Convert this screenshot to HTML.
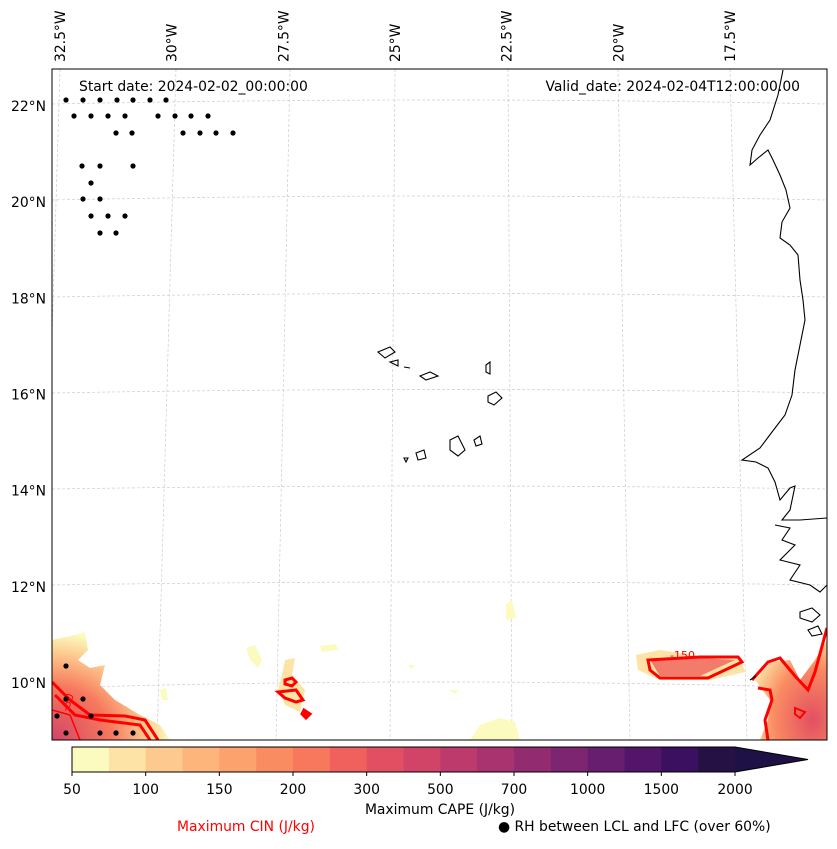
<!DOCTYPE html>
<html><head><meta charset="utf-8"><style>
body{margin:0;background:#fff;width:837px;height:845px;overflow:hidden;font-family:"DejaVu Sans","Liberation Sans",sans-serif}
svg text{font-family:"DejaVu Sans","Liberation Sans",sans-serif;font-size:13.9px}
</style></head><body>
<svg id="chart" width="837" height="845" viewBox="0 0 837 845">
<defs>
<clipPath id="mapclip"><rect x="52" y="69" width="775" height="671"/></clipPath>
<radialGradient id="capeL" cx="0" cy="1" r="1"><stop offset="0" stop-color="#d24467"/><stop offset="0.5" stop-color="#f7785d"/><stop offset="0.8" stop-color="#fdc98e"/><stop offset="1" stop-color="#fcfbbf"/></radialGradient>
<radialGradient id="capeR" cx="0.8" cy="0.8" r="0.9"><stop offset="0" stop-color="#e34f62"/><stop offset="0.6" stop-color="#fa8c62"/><stop offset="1" stop-color="#fde4a6"/></radialGradient>
</defs>
<g id="map" clip-path="url(#mapclip)">
<g id="grid" stroke="#ccc" stroke-width="0.7" stroke-dasharray="3,2" fill="none">
<path d="M60 69 L40 740"/><path d="M176 69 L157 740"/><path d="M290 69 L276 740"/><path d="M395 69 L390 740"/><path d="M508 69 L512 740"/><path d="M618 69 L630 740"/><path d="M730 69 L747 740"/>
<path d="M52 104 Q440 96 827 104"/><path d="M52 200 Q440 192 827 200"/><path d="M52 297 Q440 290 827 297"/><path d="M52 393 Q440 386 827 393"/><path d="M52 489 Q440 483 827 489"/><path d="M52 585 Q440 579 827 585"/><path d="M52 688 Q440 676 827 688"/>
</g>
<g id="cape-fill">
<path d="M52 640 L70 636 L85 632 L88 650 L78 660 L90 668 L105 665 L100 685 L115 700 L140 715 L160 725 L170 740 L52 740Z" fill="url(#capeL)"/>
<path d="M246 648 L255 645 L262 660 L258 668 L250 660Z" fill="#fcfbbf"/>
<path d="M285 660 L295 658 L292 675 L305 690 L300 712 L285 705 L278 690 L282 675Z" fill="#fde4a6"/>
<path d="M320 646 L336 644 L338 650 L322 652Z" fill="#fcfbbf"/>
<path d="M506 604 L512 600 L516 618 L506 620Z" fill="#fcfbbf"/>
<path d="M480 725 L500 718 L515 722 L520 740 L470 740Z" fill="#fcfbbf"/>
<path d="M636 655 L660 650 L700 656 L740 656 L745 672 L710 680 L660 680 L638 670Z" fill="#fde4a6"/>
<path d="M650 660 L700 658 L735 660 L700 676 L660 676Z" fill="#f0605d" opacity="0.8"/>
<path d="M755 680 L770 662 L790 660 L800 680 L815 660 L827 640 L827 740 L760 740 L768 720 L770 700Z" fill="url(#capeR)"/>
<path d="M160 690 L166 688 L168 700 L162 700Z" fill="#fcfbbf"/><path d="M408 665 L414 665 L412 670Z" fill="#fcfbbf"/><path d="M448 690 L458 690 L456 694Z" fill="#fcfbbf"/>
</g>
<g id="cin" fill="none" stroke="#ff0000" stroke-width="3">
<path d="M52 682 L70 700 L90 715 L125 716 L145 720 L158 740"/>
<path d="M55 695 L75 715 L100 720 L140 725 L150 740"/>
<path d="M52 710 L70 715 L80 740" stroke-width="1.5"/>
<path d="M285 680 L292 678 L296 682 L292 686 L285 684Z"/>
<path d="M278 692 L296 690 L303 700 L296 702 L285 698Z"/>
<path d="M304 710 L310 714 L306 718 L302 714Z" fill="#ff0000"/>
<path d="M648 660 L700 657 L738 657 L742 662 L725 670 L708 678 L660 678 L650 670Z"/>
<path d="M752 680 L768 662 L780 658 L795 676 L808 690 L815 672 L827 628"/>
<path d="M758 688 L770 690 L772 700 L765 720 L768 740"/>
<path d="M795 708 L805 712 L800 718 L795 714Z" stroke-width="2"/>
</g>
<g fill="#ff0000">
<text x="670" y="659" style="font-size:11px">-150</text>
<text x="68" y="712" style="font-size:11px" transform="rotate(-70 68 712)">-50</text>
</g>
<g id="coast" fill="none" stroke="#000" stroke-width="1.1">
<path d="M783 70 L778 95 L770 120 L760 135 L752 150 L750 165 L758 158 L768 150 L773 160 L780 175 L786 190 L790 208 L782 222 L780 238 L790 245 L798 255 L800 280 L803 300 L805 320 L800 345 L795 370 L792 395 L785 415 L772 432 L760 448 L742 460 L756 462 L768 468 L775 482 L780 500 L790 488 L795 486 L790 510 L782 520 L800 520 L827 518"/>
<path d="M775 525 L790 528 L782 540 L795 545 L780 560 L800 565 L790 580 L810 585 L820 592 L827 585"/>
<path d="M800 612 L812 608 L820 615 L812 622 L800 618Z"/><path d="M808 630 L818 626 L822 634 L812 636Z"/><path d="M750 680 L756 676"/>
<path d="M378 352 L390 347 L395 352 L385 358Z"/><path d="M390 362 L398 360 L398 366Z"/><path d="M404 367 L410 368"/>
<path d="M420 376 L430 372 L438 376 L426 380Z"/><path d="M486 365 L490 362 L490 374 L486 372Z"/>
<path d="M488 396 L496 392 L502 398 L494 405 L488 402Z"/><path d="M450 440 L458 436 L465 450 L458 456 L450 450Z"/>
<path d="M474 440 L480 436 L482 444 L476 446Z"/><path d="M416 453 L424 450 L426 458 L418 460Z"/><path d="M404 458 L408 458 L406 462Z"/>
</g>
<g id="rh-dots" fill="#000"></g>
</g>
<rect x="52" y="69" width="775" height="671" fill="none" stroke="#000" stroke-width="1"/>
<g id="lon-labels"></g>
<g id="lat-labels"></g>
<text x="79" y="91">Start date: 2024-02-02_00:00:00</text>
<text x="800" y="91" text-anchor="end">Valid_date: 2024-02-04T12:00:00.00</text>
<g id="colorbar"></g>
<text x="440" y="814" text-anchor="middle">Maximum CAPE (J/kg)</text>
<text x="177" y="831" fill="#ff0000">Maximum CIN (J/kg)</text>
<text x="498" y="831">● RH between LCL and LFC (over 60%)</text>
</svg>
<script>
const lonLabels=["32.5°W","30°W","27.5°W","25°W","22.5°W","20°W","17.5°W"];
const lonValues=[-32.5,-30,-27.5,-25,-22.5,-20,-17.5];
const latLabels=["22°N","20°N","18°N","16°N","14°N","12°N","10°N"];
const latValues=[22,20,18,16,14,12,10];
const cbLevels=[50,75,100,125,150,175,200,250,300,400,500,600,700,850,1000,1250,1500,1750,2000];
const cbTickLabels=["50","100","150","200","300","500","700","1000","1500","2000"];
const cbColors=["#fcfbbf","#fde4a6","#fdc98e","#fdb57b","#fca26c","#fa8c62","#f7785d","#f0605d","#e34f62","#d24467","#bd3a6d","#a8336f","#932b71","#7d2570","#681e6e","#521569","#3b1061","#251144"];
const rhDotsX=[66,83,100,117,133,150,166,74,91,108,125,158,175,191,208,116,132,183,200,216,233,82,100,133,91,83,100,91,108,125,100,116,66,66,83,57,91,116,66,100,116,133];
const rhDotsY=[100,100,100,100,100,100,100,116,116,116,116,116,116,116,116,133,133,133,133,133,133,166,166,166,183,199,199,216,216,216,233,233,666,699,699,716,716,733,733,733,733,733];
const NS="http://www.w3.org/2000/svg";
const lonX=v=>60+(v+32.5)*(730-60)/15;
const latY=v=>106+(22-v)*(683-106)/12;
function el(t,a,p){const e=document.createElementNS(NS,t);for(const k in a)e.setAttribute(k,a[k]);p.appendChild(e);return e;}
const lonG=document.getElementById('lon-labels');
lonLabels.forEach((l,i)=>{const x=lonX(lonValues[i])+5;const t=el('text',{x:x,y:62,transform:`rotate(-90 ${x} 62)`},lonG);t.textContent=l;

});
const latG=document.getElementById('lat-labels');
latLabels.forEach((l,i)=>{const t=el('text',{x:46,y:latY(latValues[i])+5,'text-anchor':'end'},latG);t.textContent=l;

});
const dg=document.getElementById('rh-dots');
rhDotsX.forEach((x,i)=>{const c=el('circle',{cx:x,cy:rhDotsY[i],r:2.6},dg);

});
const cb=document.getElementById('colorbar');
const x0=72,x1=735,y0=747,h=25,w=(x1-x0)/cbColors.length;
cbColors.forEach((c,i)=>{const r=el('rect',{x:x0+i*w,y:y0,width:w+0.5,height:h,fill:c},cb);

});
const ar=el('path',{d:`M${x1} ${y0} L808 ${y0+h/2} L${x1} ${y0+h}Z`,fill:'#1e1145'},cb);


const ol=el('path',{d:`M${x0} ${y0} L${x1} ${y0} L808 ${y0+h/2} L${x1} ${y0+h} L${x0} ${y0+h}Z`,fill:'none',stroke:'#000','stroke-width':1},cb);


cbTickLabels.forEach((l,i)=>{const x=x0+i*2*w;el('line',{x1:x,x2:x,y1:y0+h,y2:y0+h+4,stroke:'#000'},cb);
const t=el('text',{x:x,y:794,'text-anchor':'middle'},cb);t.textContent=l;

});
</script>
</body></html>
